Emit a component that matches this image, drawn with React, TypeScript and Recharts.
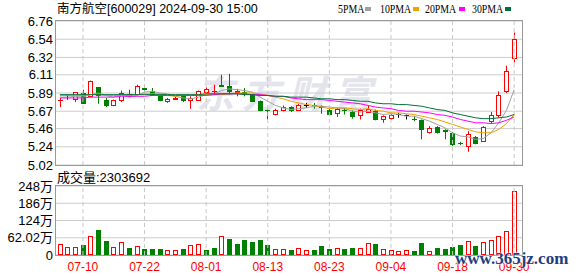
import { ComposedChart, Bar, Line, XAxis, YAxis, CartesianGrid, ReferenceLine } from "recharts";

const dates = [
  "07-05", "07-08", "07-09", "07-10", "07-11", "07-12", "07-15", "07-16", "07-17", "07-18",
  "07-19", "07-22", "07-23", "07-24", "07-25", "07-26", "07-29", "07-30", "07-31", "08-01",
  "08-02", "08-05", "08-06", "08-07", "08-08", "08-09", "08-12", "08-13", "08-14", "08-15",
  "08-16", "08-19", "08-20", "08-21", "08-22", "08-23", "08-26", "08-27", "08-28", "08-29",
  "08-30", "09-02", "09-03", "09-04", "09-05", "09-06", "09-09", "09-10", "09-11", "09-12",
  "09-13", "09-18", "09-19", "09-20", "09-23", "09-24", "09-25", "09-26", "09-27", "09-30",
];

const open = [
  5.80, 5.86, 5.82, 5.89, 5.85, 5.96, 5.81, 5.74, 5.81, 5.85,
  5.88, 5.95, 5.92, 5.85, 5.79, 5.82, 5.85, 5.81, 5.81, 5.90,
  5.91, 5.99, 5.98, 5.90, 5.90, 5.87, 5.79, 5.69, 5.64, 5.68,
  5.72, 5.69, 5.74, 5.75, 5.73, 5.69, 5.65, 5.69, 5.66, 5.63,
  5.66, 5.67, 5.57, 5.59, 5.64, 5.62, 5.58, 5.56, 5.42, 5.48,
  5.44, 5.41, 5.29, 5.25, 5.36, 5.31, 5.55, 5.63, 5.91, 6.31,
];
const high = [
  5.83, 5.87, 5.90, 5.93, 6.04, 5.96, 5.83, 5.81, 5.92, 5.93,
  5.99, 5.98, 5.95, 5.86, 5.83, 5.85, 5.87, 5.85, 5.92, 5.96,
  5.99, 6.11, 6.12, 5.94, 5.95, 5.88, 5.80, 5.69, 5.70, 5.74,
  5.73, 5.76, 5.77, 5.77, 5.74, 5.71, 5.71, 5.71, 5.68, 5.70,
  5.74, 5.69, 5.62, 5.64, 5.65, 5.63, 5.61, 5.57, 5.49, 5.49,
  5.45, 5.42, 5.30, 5.43, 5.37, 5.49, 5.66, 5.91, 6.22, 6.62,
];
const low = [
  5.72, 5.81, 5.78, 5.76, 5.84, 5.76, 5.72, 5.73, 5.78, 5.84,
  5.87, 5.92, 5.86, 5.79, 5.77, 5.81, 5.78, 5.70, 5.81, 5.87,
  5.87, 5.97, 5.87, 5.85, 5.85, 5.78, 5.67, 5.57, 5.62, 5.67,
  5.66, 5.68, 5.71, 5.70, 5.64, 5.63, 5.60, 5.63, 5.58, 5.57,
  5.65, 5.56, 5.53, 5.57, 5.59, 5.57, 5.55, 5.33, 5.40, 5.40,
  5.33, 5.25, 5.26, 5.18, 5.27, 5.30, 5.52, 5.59, 5.89, 6.26,
];
const close = [
  5.81, 5.86, 5.90, 5.77, 6.03, 5.87, 5.74, 5.80, 5.89, 5.88,
  5.97, 5.94, 5.87, 5.80, 5.82, 5.83, 5.81, 5.83, 5.92, 5.94,
  5.92, 5.98, 5.92, 5.91, 5.89, 5.79, 5.68, 5.68, 5.68, 5.72,
  5.68, 5.75, 5.74, 5.74, 5.72, 5.64, 5.70, 5.68, 5.61, 5.68,
  5.70, 5.57, 5.61, 5.63, 5.64, 5.62, 5.57, 5.45, 5.47, 5.42,
  5.43, 5.27, 5.28, 5.39, 5.29, 5.48, 5.62, 5.86, 6.15, 6.54,
];

const ma5 = [
  5.84, 5.84, 5.85, 5.84, 5.87, 5.89, 5.86, 5.84, 5.87, 5.84,
  5.86, 5.90, 5.91, 5.89, 5.88, 5.85, 5.83, 5.82, 5.84, 5.87,
  5.88, 5.92, 5.94, 5.93, 5.92, 5.90, 5.84, 5.79, 5.74, 5.71,
  5.69, 5.70, 5.71, 5.73, 5.73, 5.72, 5.71, 5.70, 5.67, 5.66,
  5.67, 5.65, 5.63, 5.64, 5.63, 5.61, 5.61, 5.58, 5.55, 5.51,
  5.47, 5.41, 5.37, 5.36, 5.33, 5.34, 5.41, 5.53, 5.68, 5.93,
];
const ma10 = [
  5.86, 5.86, 5.86, 5.86, 5.87, 5.87, 5.86, 5.86, 5.86, 5.86,
  5.87, 5.88, 5.88, 5.88, 5.86, 5.85, 5.86, 5.86, 5.87, 5.87,
  5.87, 5.87, 5.88, 5.89, 5.89, 5.89, 5.88, 5.86, 5.84, 5.82,
  5.79, 5.77, 5.75, 5.74, 5.72, 5.70, 5.71, 5.71, 5.70, 5.69,
  5.70, 5.68, 5.67, 5.65, 5.65, 5.64, 5.63, 5.61, 5.59, 5.57,
  5.54, 5.51, 5.48, 5.45, 5.42, 5.41, 5.41, 5.45, 5.52, 5.63,
];
const ma20 = [
  5.83, 5.83, 5.83, 5.83, 5.84, 5.84, 5.84, 5.84, 5.85, 5.85,
  5.85, 5.85, 5.86, 5.86, 5.86, 5.86, 5.86, 5.86, 5.86, 5.86,
  5.87, 5.88, 5.88, 5.88, 5.88, 5.87, 5.87, 5.86, 5.85, 5.85,
  5.83, 5.82, 5.81, 5.81, 5.81, 5.80, 5.79, 5.78, 5.77, 5.76,
  5.74, 5.72, 5.71, 5.70, 5.68, 5.67, 5.67, 5.66, 5.65, 5.63,
  5.62, 5.60, 5.57, 5.55, 5.53, 5.53, 5.52, 5.53, 5.56, 5.60,
];
const ma30 = [
  5.87, 5.87, 5.87, 5.87, 5.87, 5.87, 5.87, 5.87, 5.87, 5.87,
  5.87, 5.87, 5.87, 5.87, 5.87, 5.87, 5.87, 5.87, 5.87, 5.88,
  5.88, 5.88, 5.88, 5.88, 5.87, 5.87, 5.86, 5.86, 5.85, 5.85,
  5.84, 5.84, 5.84, 5.83, 5.82, 5.82, 5.81, 5.81, 5.80, 5.79,
  5.79, 5.77, 5.76, 5.76, 5.75, 5.75, 5.74, 5.73, 5.71, 5.69,
  5.68, 5.65, 5.63, 5.61, 5.59, 5.58, 5.58, 5.59, 5.60, 5.63,
];

// 成交量, 万手
const volume = [
  39.6, 27.6, 27.6, 36, 68, 90, 51, 27.6, 45.6, 25,
  31, 21.6, 21.6, 21.6, 17, 17, 21.6, 35, 38, 18,
  25, 67, 57.6, 39.6, 54, 46.8, 54, 36, 20.5, 20.5,
  18, 24, 18, 18, 32, 21.6, 24, 21.6, 25, 24,
  43, 39.6, 20.5, 17, 13.2, 17, 14.4, 43, 13.2, 25,
  21.6, 28.8, 36, 50, 32, 46.8, 54, 67, 86, 230.37,
];
// 1 = red (hollow) volume bar, 0 = green
const volUp = [
  1, 1, 1, 0, 1, 0, 0, 1, 1, 0,
  1, 0, 0, 0, 1, 1, 0, 1, 1, 0,
  0, 1, 0, 0, 0, 0, 0, 0, 1, 1,
  0, 1, 1, 0, 0, 0, 1, 0, 0, 1,
  1, 0, 1, 1, 1, 1, 0, 0, 1, 0,
  0, 0, 0, 1, 0, 1, 1, 1, 1, 1,
];

const xTicks = ["07-10", "07-22", "08-01", "08-13", "08-23", "09-04", "09-18", "09-30"];
const priceTicks = [5.02, 5.24, 5.46, 5.67, 5.89, 6.11, 6.32, 6.54, 6.76];
const volTicks = [0, 62.02, 124.04, 186.06, 248.08];
const volTickLabels = ["0", "62.02万", "124万", "186万", "248万"];

const RED = "#ff0000";
const GREEN = "#008000";

function Candle(props: any) {
  const { x, y, width, height, payload } = props;
  const { o, h, l, c } = payload;
  const k = height / (h - l);
  const py = (v: number) => y + (h - v) * k;
  const cx = Math.round(x + width / 2);
  const color = c > o ? RED : c < o ? GREEN : "#000000";
  const top = Math.round(py(Math.max(o, c)));
  const bot = Math.round(py(Math.min(o, c)));
  return (
    <g>
      <line x1={cx + 0.5} x2={cx + 0.5} y1={py(h)} y2={py(l)} stroke={color} strokeWidth={1} />
      {bot - top < 1 ? (
        <line x1={cx - 2} x2={cx + 3} y1={top + 0.5} y2={top + 0.5} stroke={color} strokeWidth={1} />
      ) : (
        <rect x={cx - 1.5} y={top + 0.5} width={4} height={bot - top} fill={c > o ? "#ffffff" : color} stroke={color} strokeWidth={1} />
      )}
    </g>
  );
}

function VolBar(props: any) {
  const { x, y, width, height, payload } = props;
  const cx = Math.round(x + width / 2);
  const top = Math.round(y);
  const bot = Math.round(y + height);
  const color = payload.up ? RED : GREEN;
  return (
    <rect x={cx - 1.5} y={top + 0.5} width={4} height={Math.max(bot - top - 1, 1)} fill={payload.up ? "#ffffff" : color} stroke={color} strokeWidth={1} />
  );
}

const legend = [
  { name: "5PMA", color: "#a0a0a0", left: 338, sq: 365 },
  { name: "10PMA", color: "#f0a000", left: 380, sq: 413 },
  { name: "20PMA", color: "#ff00ff", left: 425, sq: 459 },
  { name: "30PMA", color: "#00703a", left: 472, sq: 505 },
];

export default function App() {
  const rows = dates.map((d, i) => ({
    d,
    o: open[i],
    h: high[i],
    l: low[i],
    c: close[i],
    range: [low[i], high[i]],
    ma5: ma5[i],
    ma10: ma10[i],
    ma20: ma20[i],
    ma30: ma30[i],
    vol: volume[i],
    up: volUp[i],
  }));

  const sans = "'Liberation Sans', Arial, 'Noto Sans CJK SC', sans-serif";

  return (
    <div style={{ position: "relative", width: 578, height: 276, background: "#fff", overflow: "hidden", fontFamily: sans }}>
      <style>{`body{margin:0}`}</style>

      {/* faint site watermark behind the candles */}
      <div style={{ position: "absolute", left: 196, top: 64, fontSize: 38, fontWeight: 700, fontStyle: "italic", letterSpacing: 8, color: "#e4e4ec", fontFamily: "'Noto Sans CJK SC', sans-serif", whiteSpace: "nowrap" }}>
        东方财富
      </div>

      <div style={{ position: "absolute", left: 57, top: 0, fontSize: 12.5, lineHeight: "18px", color: "#000", whiteSpace: "nowrap" }}>
        南方航空[600029] 2024-09-30 15:00
      </div>
      {legend.map((it) => (
        <div key={it.name}>
          <div style={{ position: "absolute", left: it.left, top: 1, fontSize: 12, lineHeight: "16px", fontFamily: "'Liberation Serif', serif", transform: "scaleX(0.82)", transformOrigin: "left", whiteSpace: "nowrap" }}>
            {it.name}
          </div>
          <div style={{ position: "absolute", left: it.sq, top: 7, width: 6, height: 4, background: it.color }} />
        </div>
      ))}

      <div style={{ position: "absolute", left: 0, top: 0 }}>
        <ComposedChart width={578} height={180} data={rows} margin={{ top: 21, right: 56, bottom: 15, left: 0 }}>
          <CartesianGrid vertical={false} stroke="#cccccc" />
          <XAxis dataKey="d" hide padding={{ left: 0, right: 4 }} />
          <YAxis
            domain={[5.02, 6.76]}
            ticks={priceTicks}
            interval={0}
            width={56}
            tickSize={3}
            tickMargin={0}
            axisLine={false}
            tickLine={false}
            tick={{ fontSize: 13, fill: "#000" }}
            tickFormatter={(v: number) => v.toFixed(2)}
          />
          {xTicks.map((t) => (
            <ReferenceLine key={t} x={t} stroke="#c8c8c8" strokeDasharray="4 3" />
          ))}
          <Bar dataKey="range" shape={Candle} barSize={5} isAnimationActive={false} />
          <Line dataKey="ma5" stroke="#a0a0a0" strokeWidth={1} dot={false} isAnimationActive={false} />
          <Line dataKey="ma10" stroke="#f0a000" strokeWidth={1} dot={false} isAnimationActive={false} />
          <Line dataKey="ma20" stroke="#ff00ff" strokeWidth={1} dot={false} isAnimationActive={false} />
          <Line dataKey="ma30" stroke="#00703a" strokeWidth={1} dot={false} isAnimationActive={false} />
        </ComposedChart>
      </div>

      <div style={{ position: "absolute", left: 57, top: 169, fontSize: 13, lineHeight: "18px", color: "#000", whiteSpace: "nowrap" }}>
        成交量:2303692
      </div>

      <div style={{ position: "absolute", left: 0, top: 170 }}>
        <ComposedChart width={578} height={106} data={rows} margin={{ top: 16, right: 56, bottom: 0, left: 0 }}>
          <CartesianGrid vertical={false} stroke="#cccccc" />
          <XAxis
            dataKey="d"
            ticks={xTicks}
            interval={0}
            height={21}
            tickSize={6}
            tickMargin={1}
            axisLine={false}
            tickLine={false}
            padding={{ left: 0, right: 4 }}
            tick={{ fontSize: 12, fill: "#ff0000" }}
          />
          <YAxis
            domain={[0, 248.08]}
            ticks={volTicks}
            interval={0}
            width={56}
            tickSize={3}
            tickMargin={0}
            axisLine={false}
            tickLine={false}
            tick={{ fontSize: 13, fill: "#000" }}
            tickFormatter={(v: number, i: number) => volTickLabels[i]}
          />
          {xTicks.map((t) => (
            <ReferenceLine key={t} x={t} stroke="#c8c8c8" strokeDasharray="4 3" />
          ))}
          <Bar dataKey="vol" shape={VolBar} barSize={5} isAnimationActive={false} />
        </ComposedChart>
      </div>

      {/* panel frames */}
      <div style={{ position: "absolute", left: 55, top: 20, width: 468, height: 146, boxSizing: "border-box", border: "1px solid #999", pointerEvents: "none" }} />
      <div style={{ position: "absolute", left: 55, top: 185, width: 468, height: 71, boxSizing: "border-box", border: "1px solid #999", pointerEvents: "none" }} />

      <div style={{ position: "absolute", left: 455, top: 249, fontSize: 17, fontWeight: 700, color: "#1e3f7f", fontFamily: "'Liberation Serif', serif", textShadow: "0 0 2px #fff, 0 0 2px #fff", whiteSpace: "nowrap" }}>
        www.365jz.com
      </div>
    </div>
  );
}
